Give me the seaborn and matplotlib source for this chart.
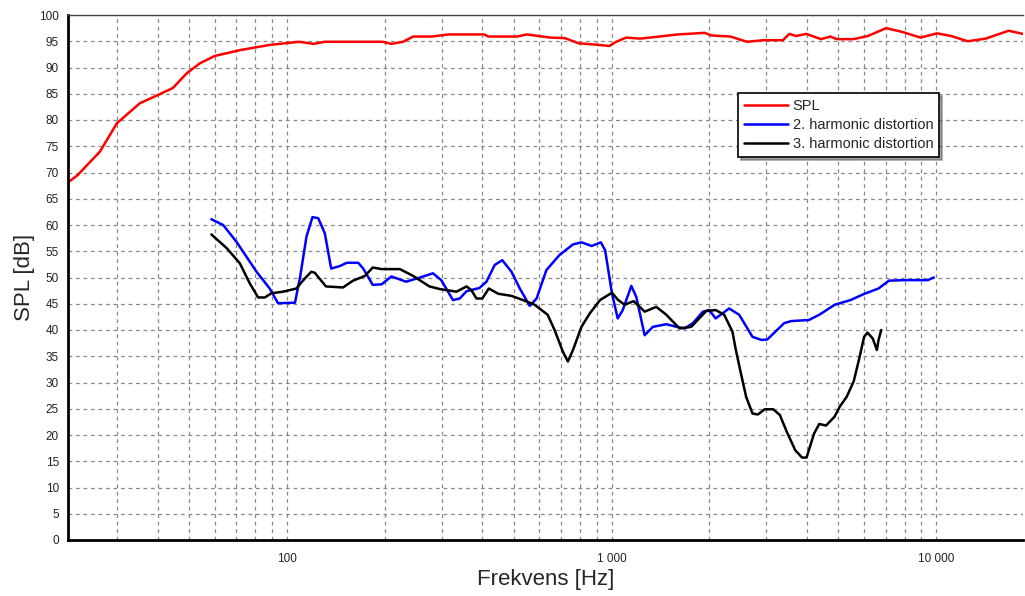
import numpy as np
import pandas as pd
import matplotlib
matplotlib.use("Agg")
import matplotlib.pyplot as plt
from matplotlib.ticker import FixedLocator, NullFormatter
import seaborn as sns

# ---- data ----
spl_freq = [21.2, 22.7, 26.6, 30, 35.3, 40.6, 44.6, 49.2, 54, 60, 71.7, 88.6, 95, 109, 121, 131,
            197, 210, 228, 245, 280, 315, 405, 418, 512, 549, 595, 647, 718, 793, 877, 985,
            1034, 1110, 1226, 1405, 1605, 1936, 2030, 2323, 2615, 2940, 3370, 3530, 3700, 3980,
            4420, 4720, 4940, 5560, 6160, 7010, 7830, 8950, 10050, 11120, 12500, 14200, 16700, 18500]
spl_db = [68.1, 69.5, 74.0, 79.4, 83.2, 84.9, 86.1, 88.9, 90.8, 92.2, 93.3, 94.3, 94.5, 94.9, 94.5, 94.9,
          94.9, 94.5, 94.9, 95.9, 95.9, 96.3, 96.3, 95.9, 95.9, 96.3, 96.0, 95.7, 95.6, 94.6, 94.4, 94.1,
          94.9, 95.7, 95.5, 95.9, 96.3, 96.6, 96.1, 95.9, 94.9, 95.2, 95.2, 96.4, 96.0, 96.4,
          95.4, 95.9, 95.4, 95.4, 96.0, 97.5, 96.8, 95.7, 96.5, 96.0, 95.0, 95.5, 97.0, 96.4]

h2_freq = [58.6, 63.7, 70, 80.7, 88.6, 94, 106, 110, 115, 120, 125, 131, 137, 146, 153, 166, 172,
           184, 196, 210, 233, 257, 282, 299, 325, 341, 358, 392, 412, 437, 461, 492, 522, 560,
           588, 630, 692, 761, 808, 869, 927, 956, 1003, 1045, 1083, 1151, 1192, 1265, 1341, 1475,
           1587, 1680, 1781, 1913, 2000, 2093, 2302, 2473, 2717, 2900, 3020, 3400, 3577, 4051,
           4363, 4865, 5444, 6011, 6641, 7151, 8006, 8954, 9414, 9830]
h2_db = [61.1, 60.0, 56.8, 51.1, 47.9, 45.1, 45.2, 50.2, 57.8, 61.5, 61.3, 58.4, 51.7, 52.2, 52.8, 52.8, 51.7,
         48.6, 48.7, 50.2, 49.2, 50.0, 50.8, 49.5, 45.7, 46.0, 47.4, 48.0, 49.2, 52.4, 53.3, 51.1, 47.9, 44.6,
         46.0, 51.4, 54.3, 56.3, 56.7, 56.0, 56.7, 55.2, 47.0, 42.2, 43.8, 48.4, 46.3, 39.0, 40.6, 41.1,
         40.6, 40.3, 41.3, 43.5, 43.8, 42.2, 44.1, 42.9, 38.7, 38.1, 38.2, 41.3, 41.7, 41.9,
         42.9, 44.8, 45.7, 46.9, 47.9, 49.4, 49.5, 49.5, 49.5, 50.0]

h3_freq = [58.6, 65.3, 71.7, 76.9, 81.6, 85.6, 89.7, 97.4, 107, 113.6, 119, 122, 132, 149, 160, 174,
           184, 196, 223, 245, 275, 296, 310, 333, 358, 370, 384, 400, 419, 448, 492, 534, 580, 636,
           668, 708, 734, 761, 808, 858, 922, 1003, 1045, 1097, 1170, 1265, 1374, 1475, 1620, 1760,
           1956, 2093, 2224, 2357, 2415, 2504, 2597, 2717, 2822, 2963, 3147, 3300, 3466, 3680, 3862,
           3987, 4085, 4207, 4363, 4576, 4864, 5046, 5302, 5569, 5779, 5997, 6141, 6372, 6565, 6642, 6772]
h3_db = [58.2, 55.6, 52.7, 48.9, 46.2, 46.2, 47.0, 47.3, 47.9, 49.8, 51.1, 50.9, 48.3, 48.1, 49.4, 50.3,
         51.9, 51.6, 51.6, 50.3, 48.3, 47.8, 47.6, 47.3, 48.3, 47.6, 46.0, 46.0, 47.9, 46.9, 46.5, 45.7, 44.8, 42.9,
         40.0, 35.9, 34.0, 36.2, 40.6, 43.2, 45.7, 47.1, 45.8, 44.8, 45.5, 43.5, 44.4, 42.9, 40.3, 40.6,
         43.6, 43.8, 42.9, 39.7, 36.2, 31.7, 27.3, 24.1, 23.9, 24.9, 24.9, 23.8, 20.6, 17.1, 15.7,
         15.7, 17.8, 20.3, 22.1, 21.8, 23.5, 25.4, 27.3, 30.2, 34.3, 38.7, 39.5, 38.4, 36.2, 38.1, 40.0]

series_names = ["SPL", "2. harmonic distortion", "3. harmonic distortion"]
series_colors = ["#ff0000", "#0000ff", "#000000"]
x_tick_values = [100, 1000, 10000]
x_tick_labels = ["100", "1 000", "10 000"]
y_ticks = list(range(0, 101, 5))

df = pd.concat([
    pd.DataFrame({"f": spl_freq, "dB": spl_db, "series": series_names[0]}),
    pd.DataFrame({"f": h2_freq, "dB": h2_db, "series": series_names[1]}),
    pd.DataFrame({"f": h3_freq, "dB": h3_db, "series": series_names[2]}),
], ignore_index=True)

sns.set_style("white")
plt.rcParams["font.family"] = ["Liberation Sans", "DejaVu Sans"]

fig = plt.figure(figsize=(10.25, 5.96), dpi=100)
ax = fig.add_axes([68 / 1025, 1 - 540 / 596, (1023 - 68) / 1025, (540 - 15) / 596])

sns.lineplot(data=df, x="f", y="dB", hue="series", hue_order=series_names,
             palette=dict(zip(series_names, series_colors)), linewidth=1.8, ax=ax,
             estimator=None, sort=True)

ax.set_xscale("log")
ax.set_xlim(21.2, 18500)
ax.set_ylim(0, 100)

ax.xaxis.set_major_locator(FixedLocator(x_tick_values))
ax.set_xticklabels(x_tick_labels)
minor = [m * 10 ** e for e in range(1, 5) for m in range(2, 10)]
ax.xaxis.set_minor_locator(FixedLocator(minor))
ax.xaxis.set_minor_formatter(NullFormatter())
ax.set_yticks(y_ticks)

grid_kw = dict(color="#888888", linestyle=(0, (3, 3)), linewidth=0.9)
ax.grid(True, which="major", axis="both", **grid_kw)
ax.grid(True, which="minor", axis="x", **grid_kw)
ax.set_axisbelow(True)

ax.tick_params(axis="both", which="major", labelsize=8.5, colors="#222222", length=3, direction="out")
ax.tick_params(axis="x", which="minor", length=0)
ax.tick_params(axis="x", pad=6)

for side in ["left", "bottom"]:
    ax.spines[side].set_color("black")
    ax.spines[side].set_linewidth(2)
ax.spines["top"].set_color("#444444")
ax.spines["top"].set_linewidth(1)
ax.spines["right"].set_visible(False)

ax.set_xlabel("Frekvens [Hz]", fontsize=16, labelpad=3)
ax.set_ylabel("SPL [dB]", fontsize=16, labelpad=3)

leg = ax.legend(loc="upper left", bbox_to_anchor=(0.7016, 0.851), frameon=True, fancybox=False,
                shadow=True, fontsize=10.5, handlelength=3.0, borderpad=0.4, labelspacing=0.35,
                handletextpad=0.35, borderaxespad=0)
leg.get_frame().set_edgecolor("black")
leg.get_frame().set_linewidth(1.2)
for line in leg.get_lines():
    line.set_linewidth(1.8)

fig.savefig("out.png", dpi=100)
